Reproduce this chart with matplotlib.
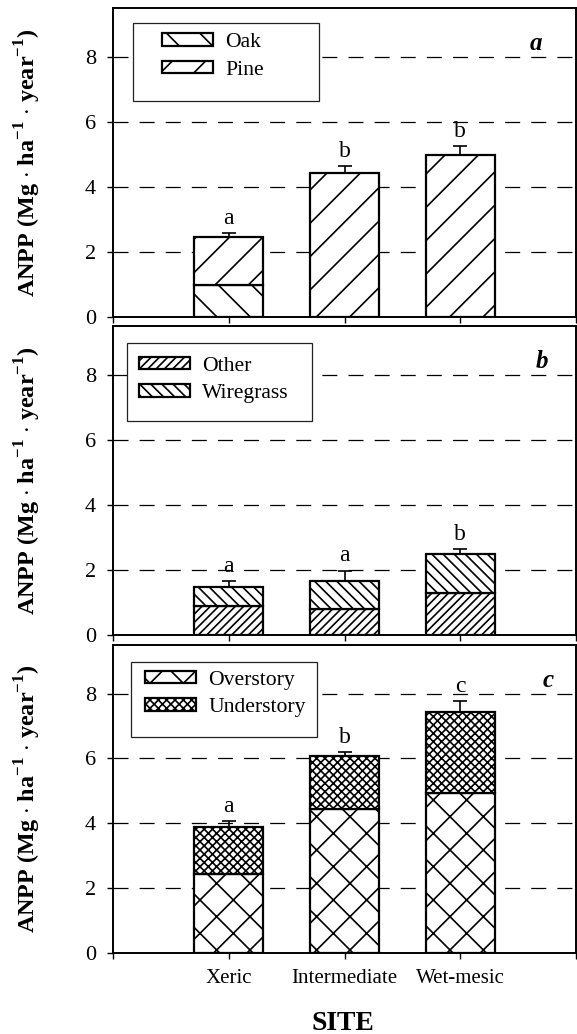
import matplotlib
matplotlib.use("Agg")
import matplotlib.pyplot as plt
from matplotlib.patches import Rectangle

# ANPP by site, Mg ha-1 yr-1
sites = ["Xeric", "Intermediate", "Wet-mesic"]

# a) trees
oak = [0.97, 0.0, 0.0]
pine = [1.48, 4.44, 4.97]
tree_err = [0.14, 0.21, 0.29]
tree_sig = ["a", "b", "b"]

# b) ground layer
other = [0.90, 0.81, 1.30]
wiregrass = [0.59, 0.86, 1.18]
ground_err = [0.18, 0.31, 0.16]
ground_sig = ["a", "a", "b"]

# c) whole stand
overstory = [2.43, 4.43, 4.95]
understory = [1.46, 1.65, 2.48]
total_err = [0.17, 0.11, 0.35]
total_sig = ["a", "b", "c"]

plt.rcParams['font.family'] = 'Liberation Serif'
plt.rcParams['mathtext.fontset'] = 'custom'
plt.rcParams['mathtext.rm'] = 'Liberation Serif'
plt.rcParams['mathtext.bf'] = 'Liberation Serif:bold'
plt.rcParams['hatch.linewidth'] = 0.6
plt.rcParams['lines.scale_dashes'] = False
plt.rcParams['xtick.labelsize'] = 7.5
plt.rcParams['ytick.labelsize'] = 8

fig = plt.figure(figsize=(577 / 200, 1034 / 200), dpi=200)

left, width = 113 / 577, 463 / 577
panels = [
    fig.add_axes([left, 1 - 317 / 1034, width, 309 / 1034]),
    fig.add_axes([left, 1 - 635 / 1034, width, 309 / 1034]),
    fig.add_axes([left, 1 - 953 / 1034, width, 308 / 1034]),
]

x = [0, 1, 2]
ylab = r"ANPP (Mg $\cdot$ ha$^{\mathbf{-1}}$ $\cdot$ year$^{\mathbf{-1}}$)"

stacks = [
    (oak, pine, "\\\\", "//", ["Oak", "Pine"], tree_err, tree_sig, "a"),
    (other, wiregrass, "////////", "\\\\\\\\\\\\", ["Other", "Wiregrass"], ground_err, ground_sig, "b"),
    (overstory, understory, "xx", "xxxxxxxx", ["Overstory", "Understory"], total_err, total_sig, "c"),
]
# legend frame (x0, y0, w, h) and handle anchor, axes fraction
frames = [(0.043, 0.699, 0.401, 0.252), (0.030, 0.693, 0.399, 0.252), (0.039, 0.701, 0.401, 0.244)]
anchors = [(0.106, 0.918), (0.056, 0.900), (0.070, 0.916)]
letter_x = [0.914, 0.927, 0.94]

for i, ax in enumerate(panels):
    lower, upper, h1, h2, names, err, sig, tag = stacks[i]
    total = [a + b for a, b in zip(lower, upper)]

    for y in [2, 4, 6, 8]:
        ax.axhline(y, color='k', lw=0.45, dashes=(5.4, 4.0), zorder=1)

    b1 = ax.bar(x, lower, width=0.6, color='white', edgecolor='k', hatch=h1, linewidth=0.8, zorder=3)
    b2 = ax.bar(x, upper, width=0.6, bottom=lower, color='white', edgecolor='k', hatch=h2, linewidth=0.8, zorder=3)
    ax.errorbar(x, total, yerr=[[0, 0, 0], err], fmt='none', ecolor='k', elinewidth=0.6,
                capsize=2.5, capthick=0.6, zorder=2)
    for xi, t, e, s in zip(x, total, err, sig):
        ax.annotate(s, (xi, t + e), xytext=(0, 1.5), textcoords='offset points',
                    ha='center', va='bottom', fontsize=8.5)

    fx, fy, fw, fh = frames[i]
    ax.add_patch(Rectangle((fx, fy), fw, fh, transform=ax.transAxes, facecolor='white',
                           edgecolor='#222222', lw=0.45, zorder=4))
    leg = ax.legend([b1, b2], names, loc='upper left', bbox_to_anchor=anchors[i], frameon=False,
                    borderpad=0, borderaxespad=0, handlelength=2.35, handleheight=0.5,
                    handletextpad=0.55, labelspacing=0.38, fontsize=7.8)
    leg.set_zorder(5)

    ax.text(letter_x[i], 0.885, tag, transform=ax.transAxes, fontsize=9, fontweight='bold',
            fontstyle='italic', ha='center', va='center')

    ax.set_xlim(-1, 3)
    ax.set_ylim(0, 9.5)
    ax.set_yticks([0, 2, 4, 6, 8])
    ax.set_xticks([-1, 0, 1, 2, 3])
    if i == 2:
        ax.set_xticklabels([""] + sites + [""])
    else:
        ax.set_xticklabels([])
    ax.tick_params(direction='out', length=2.2, width=0.5, pad=4)
    ax.tick_params(axis='x', pad=3.5)
    for sp in ax.spines.values():
        sp.set_linewidth(0.7)
    ax.text(-0.183, 0.5, ylab, transform=ax.transAxes, rotation=90, ha='center', va='center',
            fontsize=8.7, fontweight='bold')

fig.text(343 / 577, 1 - 1023 / 1034, "SITE", ha='center', va='center', fontsize=10, fontweight='bold')

fig.savefig("out.png", dpi=200)
